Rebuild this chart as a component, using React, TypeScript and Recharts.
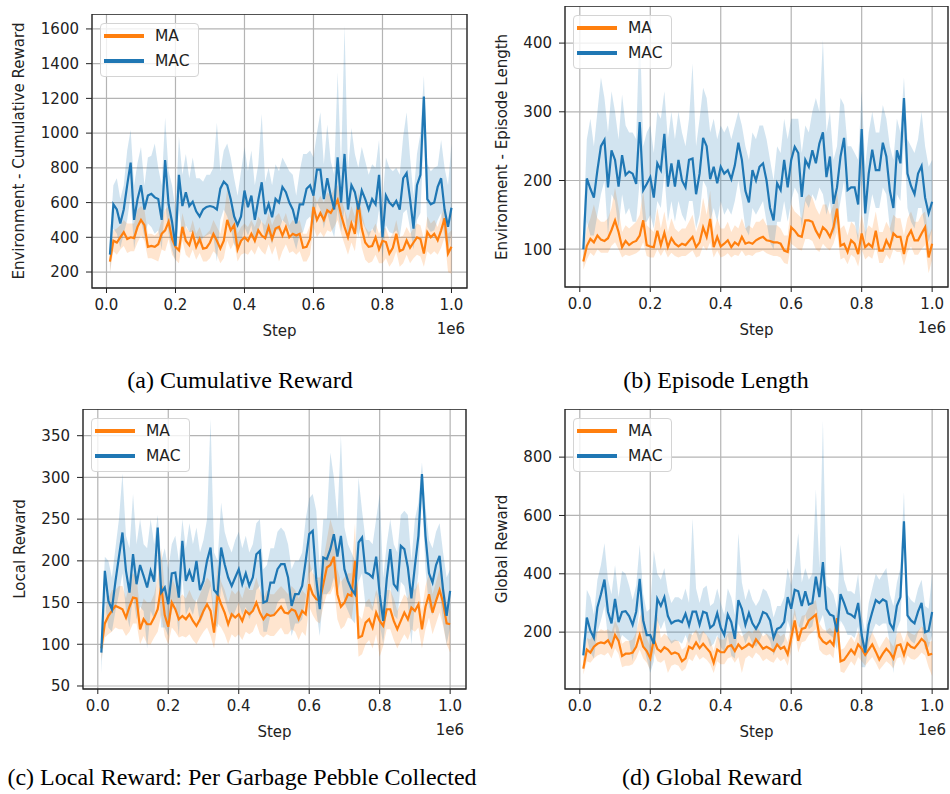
import React from 'react';
import { ComposedChart, Line, Area, XAxis, YAxis, CartesianGrid, ReferenceArea, Legend } from 'recharts';

// training steps, in units of 1e6
const STEPS = [
  0.01, 0.02, 0.03, 0.04, 0.05, 0.06, 0.07, 0.08, 0.09, 0.1,
  0.11, 0.12, 0.13, 0.14, 0.15, 0.16, 0.17, 0.18, 0.19, 0.2,
  0.21, 0.22, 0.23, 0.24, 0.25, 0.26, 0.27, 0.28, 0.29, 0.3,
  0.31, 0.32, 0.33, 0.34, 0.35, 0.36, 0.37, 0.38, 0.39, 0.4,
  0.41, 0.42, 0.43, 0.44, 0.45, 0.46, 0.47, 0.48, 0.49, 0.5,
  0.51, 0.52, 0.53, 0.54, 0.55, 0.56, 0.57, 0.58, 0.59, 0.6,
  0.61, 0.62, 0.63, 0.64, 0.65, 0.66, 0.67, 0.68, 0.69, 0.7,
  0.71, 0.72, 0.73, 0.74, 0.75, 0.76, 0.77, 0.78, 0.79, 0.8,
  0.81, 0.82, 0.83, 0.84, 0.85, 0.86, 0.87, 0.88, 0.89, 0.9,
  0.91, 0.92, 0.93, 0.94, 0.95, 0.96, 0.97, 0.98, 0.99, 1.0,
];

// (a) cumulative reward
const CUM_MA = [
  260, 380, 370, 400, 430, 390, 400, 395, 460, 500, 470, 345, 350, 345, 360, 420, 440, 490, 390, 345,
  325, 460, 380, 355, 420, 345, 390, 335, 340, 370, 420, 380, 335, 380, 500, 440, 470, 330, 380, 400,
  380, 420, 380, 440, 410, 395, 460, 390, 450, 460, 410, 460, 400, 420, 410, 420, 340, 345, 390, 575,
  500, 540, 500, 555, 540, 575, 615, 530, 460, 400, 480, 420, 605, 450, 370, 345, 350, 400, 330, 380,
  373, 306, 340, 420, 320, 330, 383, 340, 370, 400, 390, 306, 430, 400, 420, 383, 440, 510, 306, 345,
];
const CUM_MA_HI = [
  320, 440, 450, 470, 500, 480, 480, 480, 560, 580, 560, 420, 420, 410, 430, 500, 560, 580, 470, 420,
  400, 540, 460, 430, 500, 420, 460, 400, 420, 440, 500, 460, 420, 520, 680, 560, 560, 420, 460, 480,
  460, 500, 460, 520, 490, 470, 540, 470, 520, 540, 490, 540, 470, 500, 480, 500, 420, 420, 470, 660,
  600, 640, 600, 660, 640, 680, 700, 620, 560, 500, 580, 520, 660, 540, 460, 430, 440, 480, 420, 460,
  450, 390, 420, 500, 400, 410, 460, 420, 450, 480, 470, 390, 520, 480, 500, 460, 520, 580, 420, 440,
];
const CUM_MA_LO = [
  200, 320, 300, 330, 350, 310, 320, 320, 370, 410, 380, 280, 280, 270, 260, 330, 320, 390, 300, 270,
  250, 380, 300, 280, 330, 270, 310, 260, 260, 280, 320, 300, 250, 280, 380, 330, 370, 260, 300, 310,
  300, 330, 300, 350, 320, 300, 360, 300, 350, 260, 320, 360, 310, 320, 300, 320, 260, 260, 300, 460,
  400, 430, 400, 440, 430, 460, 500, 420, 360, 300, 370, 320, 480, 340, 270, 250, 260, 300, 250, 250,
  280, 230, 260, 320, 230, 250, 300, 250, 280, 300, 290, 230, 320, 300, 320, 300, 340, 400, 200, 190,
];
const CUM_MAC = [
  300, 590, 560, 480, 560, 700, 830, 500, 620, 700, 560, 640, 650, 630, 620, 500, 845, 590, 490, 350,
  760, 580, 660, 580, 605, 550, 520, 560, 575, 580, 575, 560, 680, 720, 700, 620, 520, 470, 520, 669,
  573, 640, 500, 615, 717, 534, 592, 515, 621, 600, 690, 660, 600, 560, 480, 590, 590, 680, 700, 640,
  790, 790, 620, 740, 640, 560, 860, 600, 880, 560, 700, 660, 560, 670, 620, 560, 620, 590, 760, 400,
  640, 600, 580, 610, 560, 740, 770, 620, 450, 700, 760, 1210, 620, 590, 600, 690, 740, 560, 460, 570,
];
const CUM_MAC_HI = [
  400, 700, 740, 620, 700, 900, 1020, 700, 830, 920, 700, 860, 870, 940, 800, 700, 1090, 780, 700, 560,
  980, 760, 880, 740, 860, 740, 740, 720, 760, 760, 800, 1060, 780, 900, 940, 860, 740, 640, 780, 920,
  780, 900, 700, 820, 1110, 720, 800, 700, 820, 780, 860, 820, 780, 760, 640, 780, 880, 880, 900, 860,
  1000, 1120, 820, 1050, 840, 760, 1350, 800, 1620, 780, 1030, 880, 800, 920, 840, 760, 820, 800, 960, 600,
  860, 800, 780, 800, 760, 980, 1120, 860, 640, 880, 1000, 1330, 820, 780, 800, 810, 960, 800, 700, 940,
];
const CUM_MAC_LO = [
  190, 450, 420, 340, 420, 500, 640, 330, 470, 500, 400, 480, 460, 420, 440, 330, 600, 420, 330, 260,
  560, 400, 470, 430, 430, 400, 360, 400, 410, 420, 400, 260, 500, 560, 520, 450, 360, 330, 370, 460,
  410, 470, 360, 440, 500, 380, 420, 360, 440, 440, 500, 480, 440, 400, 330, 420, 430, 500, 520, 470,
  600, 560, 450, 540, 460, 400, 560, 430, 560, 400, 500, 480, 400, 500, 450, 400, 450, 420, 560, 280,
  470, 430, 420, 440, 400, 540, 560, 450, 330, 500, 540, 1000, 460, 430, 440, 500, 540, 400, 330, 420,
];

// (b) episode length
const LEN_MA = [
  82, 105, 115, 110, 120, 114, 112, 116, 128, 142, 125, 103, 112, 106, 110, 112, 120, 142, 106, 104,
  103, 127, 106, 124, 103, 116, 108, 104, 108, 106, 112, 118, 103, 110, 132, 118, 144, 103, 118, 104,
  108, 113, 103, 110, 106, 118, 108, 110, 108, 113, 116, 118, 113, 112, 110, 110, 108, 98, 96, 132,
  127, 120, 118, 142, 142, 140, 127, 118, 132, 127, 118, 132, 159, 105, 108, 96, 113, 108, 93, 123,
  103, 108, 103, 127, 98, 98, 113, 103, 123, 118, 118, 93, 118, 127, 113, 113, 123, 132, 88, 108,
];
const LEN_MA_HI = [
  95, 130, 145, 165, 145, 140, 140, 145, 160, 190, 160, 125, 135, 130, 135, 140, 150, 185, 135, 130,
  125, 160, 130, 155, 125, 145, 130, 125, 130, 130, 140, 150, 125, 140, 175, 150, 185, 125, 145, 130,
  130, 140, 125, 135, 130, 145, 130, 135, 130, 140, 140, 145, 135, 135, 135, 135, 130, 120, 120, 165,
  155, 150, 145, 175, 180, 175, 160, 150, 165, 165, 150, 165, 185, 130, 135, 120, 140, 135, 120, 150,
  125, 135, 130, 155, 125, 125, 140, 130, 150, 145, 145, 120, 145, 155, 140, 140, 150, 155, 120, 130,
];
const LEN_MA_LO = [
  70, 85, 95, 90, 100, 95, 95, 95, 105, 110, 100, 88, 92, 90, 92, 94, 98, 110, 90, 88,
  88, 100, 90, 100, 88, 95, 90, 88, 90, 90, 94, 98, 88, 90, 105, 98, 110, 88, 98, 88,
  90, 94, 88, 92, 90, 98, 90, 92, 90, 95, 96, 98, 94, 92, 90, 90, 88, 80, 78, 108,
  104, 100, 98, 115, 115, 112, 100, 96, 108, 102, 98, 108, 125, 85, 88, 78, 92, 88, 75, 100,
  85, 90, 86, 104, 80, 80, 92, 85, 100, 96, 96, 76, 96, 104, 92, 92, 100, 106, 65, 85,
];
const LEN_MAC = [
  100, 203, 188, 175, 215, 250, 259, 190, 244, 230, 191, 237, 208, 213, 210, 195, 285, 186, 195, 205,
  175, 225, 215, 268, 191, 225, 191, 230, 200, 190, 230, 232, 180, 210, 262, 250, 202, 220, 196, 220,
  210, 215, 202, 222, 255, 230, 185, 168, 215, 200, 220, 225, 200, 160, 142, 196, 186, 230, 190, 230,
  249, 240, 176, 230, 220, 244, 225, 254, 270, 205, 235, 166, 190, 235, 262, 186, 190, 190, 165, 275,
  152, 210, 245, 215, 215, 255, 235, 185, 160, 244, 225, 320, 210, 192, 180, 210, 221, 175, 152, 169,
];
const LEN_MAC_HI = [
  130, 260, 290, 250, 300, 350, 320, 270, 330, 300, 260, 325, 280, 270, 270, 260, 430, 250, 270, 280,
  240, 300, 290, 330, 260, 300, 260, 300, 270, 250, 290, 370, 250, 290, 335, 320, 270, 290, 260, 280,
  270, 280, 260, 280, 300, 280, 250, 230, 270, 260, 280, 280, 260, 230, 200, 250, 240, 290, 260, 290,
  290, 290, 240, 280, 270, 300, 320, 300, 405, 270, 300, 230, 250, 320, 310, 250, 250, 240, 230, 330,
  220, 270, 300, 270, 270, 310, 290, 250, 230, 290, 270, 350, 260, 250, 240, 260, 300, 250, 220, 230,
];
const LEN_MAC_LO = [
  75, 140, 120, 120, 150, 180, 200, 120, 180, 170, 130, 180, 150, 160, 140, 140, 200, 140, 140, 150,
  130, 170, 160, 210, 140, 170, 140, 170, 150, 140, 170, 170, 130, 150, 200, 190, 140, 160, 140, 170,
  150, 160, 150, 170, 200, 170, 130, 120, 160, 150, 160, 170, 140, 110, 100, 140, 140, 170, 140, 170,
  190, 180, 130, 170, 160, 180, 170, 190, 180, 150, 170, 120, 140, 170, 200, 140, 140, 140, 110, 210,
  110, 150, 180, 160, 160, 190, 180, 130, 110, 180, 170, 260, 160, 140, 130, 160, 160, 130, 110, 130,
];

// (c) local reward
const LOC_MA = [
  95, 125, 134, 140, 146, 144, 142, 132, 145, 156, 155, 118, 130, 124, 124, 132, 142, 170, 135, 121,
  150, 142, 130, 134, 130, 136, 128, 122, 130, 140, 148, 140, 114, 160, 148, 138, 124, 136, 132, 136,
  128, 140, 136, 140, 150, 138, 130, 136, 134, 135, 140, 145, 138, 137, 142, 140, 130, 140, 136, 172,
  160, 154, 152, 172, 192, 195, 205, 160, 145, 150, 160, 158, 200, 108, 110, 126, 130, 120, 138, 128,
  122, 142, 142, 128, 118, 128, 138, 130, 144, 140, 148, 118, 145, 160, 138, 152, 165, 150, 125, 124,
];
const LOC_MA_HI = [
  105, 140, 155, 165, 165, 170, 170, 155, 175, 185, 180, 140, 155, 150, 150, 160, 180, 215, 165, 150,
  180, 170, 155, 160, 155, 165, 155, 150, 160, 170, 180, 175, 140, 195, 175, 165, 150, 165, 160, 165,
  155, 170, 165, 165, 180, 165, 155, 165, 160, 160, 165, 170, 165, 160, 170, 165, 155, 165, 160, 200,
  185, 180, 180, 200, 225, 250, 235, 190, 175, 180, 185, 185, 245, 135, 130, 150, 155, 145, 165, 155,
  145, 165, 165, 155, 140, 150, 160, 155, 170, 165, 175, 140, 170, 185, 160, 175, 190, 175, 150, 140,
];
const LOC_MA_LO = [
  80, 108, 112, 115, 120, 118, 118, 110, 115, 125, 125, 100, 110, 100, 100, 108, 115, 135, 110, 100,
  120, 115, 108, 110, 108, 112, 105, 100, 108, 115, 120, 110, 95, 125, 120, 112, 100, 112, 108, 112,
  105, 115, 112, 115, 125, 112, 108, 112, 110, 110, 115, 120, 112, 112, 118, 115, 105, 115, 110, 145,
  135, 128, 125, 145, 160, 160, 170, 130, 118, 122, 132, 130, 160, 85, 88, 100, 105, 95, 112, 85,
  98, 118, 118, 105, 95, 104, 112, 105, 118, 115, 120, 95, 118, 132, 112, 125, 138, 122, 100, 90,
];
const LOC_MAC = [
  90, 188, 152, 142, 175, 205, 234, 188, 162, 208, 172, 195, 182, 168, 188, 175, 240, 162, 168, 148,
  185, 186, 156, 224, 176, 188, 175, 200, 165, 176, 200, 216, 165, 160, 216, 196, 180, 170, 180, 190,
  172, 185, 170, 180, 208, 212, 150, 152, 174, 174, 190, 196, 196, 180, 146, 160, 160, 170, 200, 232,
  236, 178, 142, 204, 202, 214, 232, 205, 230, 190, 176, 166, 160, 222, 228, 186, 184, 180, 205, 160,
  128, 178, 214, 172, 166, 218, 214, 192, 155, 194, 230, 304, 230, 185, 174, 195, 206, 165, 134, 164,
];
const LOC_MAC_HI = [
  100, 205, 200, 180, 215, 250, 305, 230, 215, 280, 220, 250, 220, 215, 250, 220, 255, 200, 215, 190,
  220, 230, 200, 250, 215, 245, 220, 240, 210, 225, 250, 370, 210, 200, 270, 235, 220, 210, 225, 235,
  215, 230, 210, 220, 245, 250, 190, 195, 215, 215, 235, 240, 235, 220, 190, 200, 200, 210, 250, 275,
  280, 260, 190, 250, 250, 330, 300, 250, 350, 240, 220, 210, 200, 300, 260, 225, 225, 220, 250, 280,
  180, 220, 250, 220, 210, 255, 260, 255, 200, 250, 270, 318, 265, 225, 215, 235, 245, 210, 180, 190,
];
const LOC_MAC_LO = [
  65, 150, 120, 115, 140, 160, 185, 140, 120, 160, 130, 145, 140, 95, 140, 130, 200, 120, 120, 110,
  140, 150, 110, 180, 135, 145, 135, 155, 125, 135, 155, 170, 125, 120, 170, 155, 140, 130, 140, 150,
  135, 145, 130, 140, 165, 170, 115, 115, 135, 135, 150, 155, 155, 140, 110, 125, 125, 130, 155, 185,
  190, 140, 110, 160, 160, 165, 180, 160, 180, 150, 140, 130, 125, 175, 185, 145, 145, 140, 160, 125,
  100, 140, 170, 135, 130, 175, 170, 150, 100, 150, 185, 280, 190, 145, 135, 155, 165, 125, 100, 120,
];

// (d) global reward
const GLB_MA = [
  75, 140, 130, 150, 160, 165, 162, 172, 150, 190, 170, 118, 126, 126, 130, 150, 190, 150, 135, 110,
  175, 143, 133, 148, 140, 125, 130, 125, 100, 110, 150, 143, 165, 145, 160, 145, 131, 95, 140, 131,
  131, 150, 155, 135, 158, 143, 150, 160, 150, 175, 160, 143, 150, 143, 135, 158, 143, 150, 124, 180,
  240, 170, 211, 215, 240, 250, 260, 185, 168, 160, 170, 155, 248, 100, 105, 122, 140, 125, 158, 143,
  122, 140, 158, 133, 106, 126, 143, 130, 110, 154, 158, 122, 162, 150, 145, 160, 177, 165, 122, 126,
];
const GLB_MA_HI = [
  100, 180, 175, 200, 200, 210, 205, 210, 200, 240, 215, 160, 170, 170, 175, 200, 250, 280, 180, 150,
  230, 260, 180, 195, 185, 170, 175, 170, 140, 150, 195, 190, 210, 190, 205, 190, 175, 135, 185, 175,
  175, 195, 200, 180, 200, 185, 195, 205, 195, 220, 205, 185, 195, 185, 180, 200, 185, 195, 165, 225,
  280, 215, 255, 260, 285, 300, 310, 230, 210, 205, 215, 200, 280, 140, 145, 165, 185, 165, 200, 185,
  160, 180, 200, 175, 145, 165, 185, 170, 150, 195, 200, 165, 205, 195, 190, 205, 220, 210, 165, 170,
];
const GLB_MA_LO = [
  55, 100, 95, 110, 120, 125, 120, 130, 110, 145, 125, 80, 85, 85, 90, 110, 140, 110, 95, 70,
  130, 100, 95, 105, 60, 85, 90, 85, 65, 75, 110, 100, 125, 105, 115, 105, 90, 60, 100, 90,
  90, 110, 115, 95, 115, 60, 110, 120, 110, 130, 120, 100, 110, 100, 95, 115, 100, 110, 85, 135,
  200, 130, 165, 170, 190, 200, 210, 140, 125, 120, 125, 110, 210, 65, 60, 80, 100, 85, 115, 100,
  85, 100, 115, 95, 70, 85, 100, 90, 75, 110, 115, 85, 120, 108, 105, 115, 130, 120, 80, 50,
];
const GLB_MAC = [
  120, 250, 205, 180, 285, 330, 380, 270, 230, 314, 234, 269, 272, 255, 225, 270, 383, 240, 190, 190,
  160, 314, 290, 320, 255, 230, 238, 240, 234, 263, 223, 270, 270, 225, 270, 265, 215, 225, 265, 215,
  190, 260, 234, 177, 310, 280, 225, 265, 230, 211, 234, 269, 263, 240, 180, 211, 217, 235, 320, 280,
  345, 340, 290, 340, 295, 300, 390, 320, 440, 280, 260, 255, 200, 330, 300, 265, 260, 250, 300, 190,
  130, 225, 269, 310, 300, 312, 305, 230, 210, 290, 320, 580, 257, 240, 230, 270, 300, 200, 205, 269,
];
const GLB_MAC_HI = [
  150, 345, 320, 260, 380, 430, 505, 380, 330, 430, 320, 410, 400, 360, 310, 360, 500, 330, 270, 280,
  480, 400, 380, 420, 340, 300, 320, 320, 310, 350, 300, 590, 350, 300, 350, 360, 290, 300, 350, 300,
  260, 350, 320, 260, 540, 370, 310, 350, 310, 290, 310, 350, 340, 310, 250, 290, 290, 320, 420, 360,
  430, 540, 370, 420, 380, 400, 690, 420, 925, 360, 350, 330, 280, 500, 380, 340, 340, 330, 400, 260,
  200, 300, 350, 400, 380, 400, 420, 330, 290, 370, 420, 680, 330, 310, 300, 350, 380, 290, 280, 400,
];
const GLB_MAC_LO = [
  90, 180, 130, 110, 200, 240, 290, 180, 150, 220, 160, 190, 180, 170, 100, 190, 290, 160, 110, 60,
  100, 240, 210, 240, 180, 160, 170, 170, 160, 190, 160, 200, 200, 160, 200, 190, 150, 160, 190, 150,
  130, 190, 120, 110, 230, 200, 160, 190, 160, 150, 170, 200, 190, 170, 120, 150, 150, 170, 240, 200,
  260, 220, 210, 260, 210, 220, 280, 230, 260, 200, 190, 180, 140, 240, 220, 190, 190, 180, 220, 80,
  80, 160, 200, 230, 220, 230, 230, 160, 60, 210, 240, 500, 190, 170, 160, 200, 220, 140, 150, 190,
];

const X_TICKS = [0, 0.2, 0.4, 0.6, 0.8, 1.0];
const CUM_TICKS = [200, 400, 600, 800, 1000, 1200, 1400, 1600];
const LEN_TICKS = [100, 200, 300, 400];
const LOC_TICKS = [50, 100, 150, 200, 250, 300, 350];
const GLB_TICKS = [200, 400, 600, 800];

const MA_COLOR = '#ff7f0e';
const MAC_COLOR = '#1f77b4';
const TEXT = '#222222';
const FONT = '"DejaVu Sans", Verdana, sans-serif';
const SERIF = '"Liberation Serif", "Times New Roman", serif';
const X_DOMAIN: [number, number] = [-0.042, 1.045];
const Y_AXIS_W = 60;
const X_AXIS_H = 30;

interface PanelProps {
  ylabel: string;
  caption: string;
  ma: number[]; maLo: number[]; maHi: number[];
  mac: number[]; macLo: number[]; macHi: number[];
  yDomain: [number, number];
  yTicks: number[];
  left: number; top: number; right: number; bottom: number;
  ylabelX: number;
  captionX: number; captionY: number;
}

const LegendBox = (props: any) => {
  const items = (props.payload || []).filter((p: any) => p.type !== 'none');
  return (
    <div style={{
      width: 99, height: 54, boxSizing: 'border-box', border: '1px solid #d4d4d4', borderRadius: 4,
      background: 'rgba(255,255,255,0.8)', position: 'relative', fontFamily: FONT, fontSize: 15.5, color: TEXT,
    }}>
      {items.map((it: any, i: number) => (
        <div key={it.value} style={{ position: 'absolute', left: 2, top: 12 + i * 25 - 10, height: 20, display: 'flex', alignItems: 'center' }}>
          <div style={{ width: 40, height: 4, background: it.color, marginLeft: 1 }} />
          <span style={{ marginLeft: 11 }}>{it.value}</span>
        </div>
      ))}
    </div>
  );
};

const Panel: React.FC<PanelProps> = (p) => {
  const plotW = p.right - p.left;
  const plotH = p.bottom - p.top;
  const rows = STEPS.map((x, i) => ({
    x,
    ma: p.ma[i],
    maBand: [p.maLo[i], p.maHi[i]],
    mac: p.mac[i],
    macBand: [p.macLo[i], p.macHi[i]],
  }));
  const tickStyle = { fill: TEXT, fontSize: 15, fontFamily: FONT };
  return (
    <>
      <div style={{ position: 'absolute', left: p.left - Y_AXIS_W, top: p.top }}>
        <ComposedChart
          width={Y_AXIS_W + plotW + 2}
          height={plotH + X_AXIS_H}
          data={rows}
          margin={{ top: 0, right: 2, bottom: 0, left: 0 }}
        >
          <CartesianGrid stroke="#b4b4b4" strokeWidth={1.2} />
          <XAxis
            type="number" dataKey="x" domain={X_DOMAIN} allowDataOverflow ticks={X_TICKS}
            tickFormatter={(v: number) => v.toFixed(1)} height={X_AXIS_H}
            axisLine={false} tickSize={5} tickMargin={6} tick={tickStyle}
            tickLine={{ stroke: TEXT }} interval={0}
          />
          <YAxis
            type="number" domain={p.yDomain} allowDataOverflow ticks={p.yTicks} width={Y_AXIS_W}
            axisLine={false} tickSize={6} tickMargin={7} tick={tickStyle}
            tickLine={{ stroke: TEXT }} interval={0}
          />
          <Line dataKey="ma" name="MA" type="linear" stroke={MA_COLOR} strokeWidth={2.2} dot={false} isAnimationActive={false} />
          <Area dataKey="maBand" type="linear" stroke="none" fill={MA_COLOR} fillOpacity={0.2} legendType="none" isAnimationActive={false} />
          <Line dataKey="mac" name="MAC" type="linear" stroke={MAC_COLOR} strokeWidth={2.2} dot={false} isAnimationActive={false} />
          <Area dataKey="macBand" type="linear" stroke="none" fill={MAC_COLOR} fillOpacity={0.2} legendType="none" isAnimationActive={false} />
          <ReferenceArea
            x1={X_DOMAIN[0]} x2={X_DOMAIN[1]} y1={p.yDomain[0]} y2={p.yDomain[1]}
            fill="none" fillOpacity={0} stroke="#262626" strokeWidth={1.3} ifOverflow="visible"
          />
          <Legend
            layout="vertical" align="center" verticalAlign="middle" content={LegendBox}
            wrapperStyle={{ left: Y_AXIS_W + 8, top: 9, width: 99, height: 54 }}
          />
        </ComposedChart>
      </div>
      <div style={{
        position: 'absolute', left: p.ylabelX, top: p.top + plotH / 2, transform: 'translate(-50%, -50%) rotate(-90deg)',
        whiteSpace: 'nowrap', fontFamily: FONT, fontSize: 15, color: TEXT,
      }}>{p.ylabel}</div>
      <div style={{
        position: 'absolute', left: p.left + plotW / 2, top: p.bottom + 43, transform: 'translate(-50%, -50%)',
        whiteSpace: 'nowrap', fontFamily: FONT, fontSize: 15, color: TEXT,
      }}>Step</div>
      <div style={{
        position: 'absolute', right: 950 - p.right + 2, top: p.bottom + 41, transform: 'translateY(-50%)',
        whiteSpace: 'nowrap', fontFamily: FONT, fontSize: 15, color: TEXT,
      }}>1e6</div>
      <div style={{
        position: 'absolute', left: p.captionX, top: p.captionY, transform: 'translate(-50%, -50%)',
        whiteSpace: 'nowrap', fontFamily: SERIF, fontSize: 24, color: '#000',
      }}>{p.caption}</div>
    </>
  );
};

export default function App() {
  return (
    <div style={{ position: 'absolute', left: 0, top: 0, width: 950, height: 794, background: '#fff', overflow: 'hidden' }}>
      <Panel
        ylabel="Environment - Cumulative Reward" caption="(a) Cumulative Reward"
        ma={CUM_MA} maLo={CUM_MA_LO} maHi={CUM_MA_HI} mac={CUM_MAC} macLo={CUM_MAC_LO} macHi={CUM_MAC_HI}
        yDomain={[108, 1686]} yTicks={CUM_TICKS}
        left={92} top={14} right={467} bottom={288} ylabelX={19} captionX={240} captionY={380}
      />
      <Panel
        ylabel="Environment - Episode Length" caption="(b) Episode Length"
        ma={LEN_MA} maLo={LEN_MA_LO} maHi={LEN_MA_HI} mac={LEN_MAC} macLo={LEN_MAC_LO} macHi={LEN_MAC_HI}
        yDomain={[45, 454]} yTicks={LEN_TICKS}
        left={565} top={6} right={948} bottom={287} ylabelX={502} captionX={716} captionY={380}
      />
      <Panel
        ylabel="Local Reward" caption="(c) Local Reward: Per Garbage Pebble Collected"
        ma={LOC_MA} maLo={LOC_MA_LO} maHi={LOC_MA_HI} mac={LOC_MAC} macLo={LOC_MAC_LO} macHi={LOC_MAC_HI}
        yDomain={[46.4, 382]} yTicks={LOC_TICKS}
        left={83} top={409} right={466} bottom={689} ylabelX={20} captionX={242} captionY={777}
      />
      <Panel
        ylabel="Global Reward" caption="(d) Global Reward"
        ma={GLB_MA} maLo={GLB_MA_LO} maHi={GLB_MA_HI} mac={GLB_MAC} macLo={GLB_MAC_LO} macHi={GLB_MAC_HI}
        yDomain={[5, 965]} yTicks={GLB_TICKS}
        left={565} top={409} right={948} bottom={689} ylabelX={502} captionX={712} captionY={777}
      />
    </div>
  );
}
